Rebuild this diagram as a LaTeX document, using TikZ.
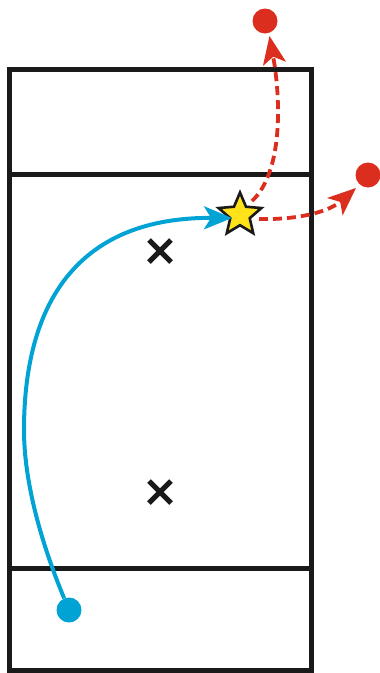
\documentclass[tikz,border=0pt]{standalone}
\usetikzlibrary{shapes.geometric,arrows.meta}
\definecolor{court}{HTML}{1A1A1A}
\definecolor{pblue}{HTML}{00A3D4}
\definecolor{pred}{HTML}{DC2E1E}
\definecolor{pyel}{HTML}{FFE21A}
\tikzset{
  courtline/.style={draw=court,line width=5pt},
  xmark/.style={draw=court,line width=5pt},
  dot/.style={circle,inner sep=0pt,minimum size=25pt},
  headtip/.style={arrows={-Stealth[length=28pt,width=23pt,inset=7pt]}},
  bluepath/.style={draw=pblue,line width=4pt,headtip},
  redpath/.style={draw=pred,line width=3.8pt,dash pattern=on 9pt off 5pt,headtip},
}
\begin{document}
\begin{tikzpicture}[x=1pt,y=-1pt]
\useasboundingbox (0,0) rectangle (380,673);
% court
\draw[courtline] (9,69) rectangle (311,670.5);
\draw[courtline] (9,174) -- (311,174);
\draw[courtline] (9,568) -- (311,568);
% X marks
\draw[xmark] (149,240) -- (171,262) (149,262) -- (171,240);
\draw[xmark] (149,481) -- (171,503) (149,503) -- (171,481);
% nodes
\node[dot,fill=pblue] (b) at (69,610) {};
\node[dot,fill=pred] (r1) at (265,21) {};
\node[dot,fill=pred] (r2) at (368,175) {};
\node[star,star points=5,star point ratio=2.2,minimum size=45pt,inner sep=0pt,fill=pyel,draw=court,line width=2.6pt] (s) at (240,215) {};
\coordinate (bm) at (24,430);
\coordinate (bt) at (232,218);
\coordinate (r1s) at (252,201);
\coordinate (r1t) at (269.5,36);
\coordinate (r2s) at (259,219);
\coordinate (r2t) at (356,188);
% paths
\draw[bluepath] (b) .. controls (40,540) and (24,480) .. (bm)
   .. controls (24,300) and (80,217) .. (bt);
\draw[redpath] (r1s) .. controls (283,172) and (281,100) .. (r1t);
\draw[redpath] (r2s) .. controls (300,220) and (330,211) .. (r2t);
\end{tikzpicture}
\end{document}
